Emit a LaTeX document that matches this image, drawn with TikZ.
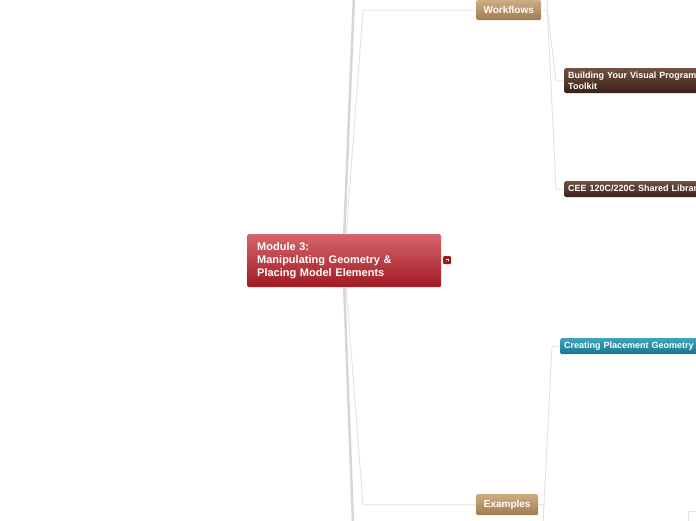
\documentclass[tikz,border=0pt]{standalone}
\usepackage{fontspec}
\setmainfont{Liberation Sans}
\definecolor{modtop}{RGB}{214,100,108}
\definecolor{modbot}{RGB}{160,26,36}
\definecolor{tantop}{RGB}{206,172,130}
\definecolor{tanbot}{RGB}{160,122,82}
\definecolor{browntop}{RGB}{112,82,66}
\definecolor{brownbot}{RGB}{58,32,22}
\definecolor{tealtop}{RGB}{62,164,188}
\definecolor{tealbot}{RGB}{22,118,144}
\definecolor{trunkgray}{RGB}{214,214,214}
\definecolor{twiggray}{RGB}{226,226,226}

\begin{document}
\begin{tikzpicture}[x=1pt,y=-1pt,
 card/.style={rectangle,rounded corners=1.5pt,anchor=north west,inner sep=0pt,text=white,font=\bfseries\fontsize{9}{11}\selectfont},
 tancard/.style={card,top color=tantop,bottom color=tanbot,align=center,font=\bfseries\fontsize{10}{12}\selectfont},
 browncard/.style={card,top color=browntop,bottom color=brownbot,align=left,inner xsep=4pt,text width=200},
 tealcard/.style={card,top color=tealtop,bottom color=tealbot,align=left,inner xsep=4pt,text width=200},
 trunk/.style={draw=trunkgray,line width=2.5pt},
 twig/.style={draw=twiggray,line width=0.9pt}]
\useasboundingbox (0,0) rectangle (696,520);
\clip (0,0) rectangle (696,520);
\node[card,top color=modtop,bottom color=modbot,font=\bfseries\fontsize{11}{13}\selectfont,align=left,text width=174,inner xsep=10pt,minimum height=53] (module) at (247,234) {Module 3:\\Manipulating Geometry \&\\Placing Model Elements};
\node[card,fill=modbot,minimum size=8,rounded corners=1pt] (fold) at (443,256) {};
\draw[white,line width=0.7pt] ([xshift=-1.5pt,yshift=1pt]fold.center) -- ([xshift=1.5pt,yshift=1pt]fold.center) -- ([xshift=1.5pt,yshift=-1pt]fold.center);
\node[tancard,minimum width=65,minimum height=20] (workflows) at (476,0) {Workflows};
\node[tancard,minimum width=62,minimum height=21] (examples) at (476,494) {Examples};
\node[browncard,minimum height=25] (toolkit) at (564,68) {Building Your Visual Programming\\Toolkit};
\node[browncard,minimum height=16] (library) at (564,181) {CEE 120C/220C Shared Library};
\node[tealcard,minimum height=16] (placement) at (560,338) {Creating Placement Geometry};
\coordinate (uptop) at (354,-4);
\coordinate (downend) at (353,524);
\coordinate (wfup) at (547,-4);
\coordinate (exdown) at (543,524);
\coordinate (cornerin) at (688,524);
\coordinate (cornerout) at (700,511);
\draw[trunk] (module.north) -- (uptop);
\draw[trunk] (module.south) -- (downend);
\draw[twig] ([xshift=2pt]module.north) -- ([xshift=-113pt]workflows.west) -- (workflows.west);
\draw[twig] ([xshift=2pt]module.south) -- ([xshift=-113pt]examples.west) -- (examples.west);
\draw[twig] (workflows.east) -- ([xshift=6pt]workflows.east) -- (wfup);
\draw[twig] ([xshift=6pt]workflows.east) -- ([xshift=-8pt]toolkit.west) -- (toolkit.west);
\draw[twig] ([xshift=6pt]workflows.east) -- ([xshift=-8pt]library.west) -- (library.west);
\draw[twig] (examples.east) -- ([xshift=7pt]examples.east);
\draw[twig] (exdown) -- ([xshift=-8pt]placement.west) -- (placement.west);
\draw[twig] (cornerin) -- (688,511) -- (cornerout);
\end{tikzpicture}
\end{document}
